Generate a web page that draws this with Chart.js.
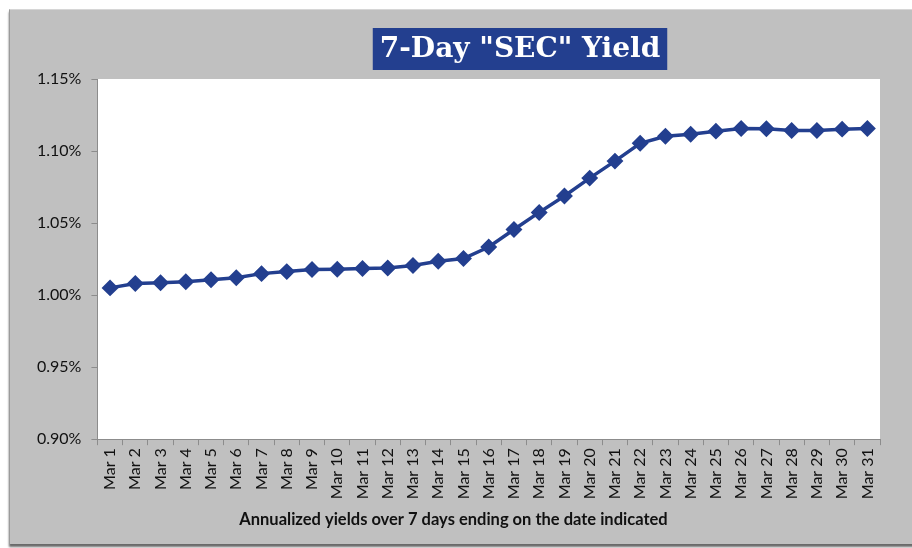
<!DOCTYPE html>
<html>
<head>
<meta charset="utf-8">
<script src="https://cdn.jsdelivr.net/npm/chart.js@4.4.0/dist/chart.umd.min.js"></script>
<style>
  html, body { margin: 0; padding: 0; background: #fff; }
  #frame {
    position: absolute; left: 9px; top: 9px; width: 910px; height: 534px;
    background: #c0c0c0;
    border-left: 1px solid #9a9a9a; border-top: 1px solid #d6d6d6;
    box-shadow: 0 3px 2px #6a6a6a;
  }
  #wrap { position: absolute; left: 0; top: 0; width: 912px; height: 548px; }
</style>
</head>
<body>
<div id="frame"></div>
<div id="wrap"><canvas id="yieldChart"></canvas></div>
<script>
const chartTitle = '7-Day "SEC" Yield';
const axisNote = 'Annualized yields over 7 days ending on the date indicated';

const days = ['Mar 1', 'Mar 2', 'Mar 3', 'Mar 4', 'Mar 5', 'Mar 6', 'Mar 7', 'Mar 8',
  'Mar 9', 'Mar 10', 'Mar 11', 'Mar 12', 'Mar 13', 'Mar 14', 'Mar 15', 'Mar 16',
  'Mar 17', 'Mar 18', 'Mar 19', 'Mar 20', 'Mar 21', 'Mar 22', 'Mar 23', 'Mar 24',
  'Mar 25', 'Mar 26', 'Mar 27', 'Mar 28', 'Mar 29', 'Mar 30', 'Mar 31'];

// 7-day yield, percent
const yields = [1.005, 1.008, 1.0086, 1.0093, 1.0107, 1.0121, 1.0149, 1.0163,
  1.0177, 1.0180, 1.0184, 1.0188, 1.0205, 1.0235, 1.0254, 1.0334,
  1.0455, 1.0574, 1.0688, 1.0812, 1.0930, 1.1054, 1.1103, 1.1117,
  1.1138, 1.1157, 1.1154, 1.1142, 1.1142, 1.1152, 1.1157];

const yMin = 0.90, yMax = 1.15, yStep = 0.05;

const chartDecor = {
  id: 'chartDecor',
  beforeDraw(chart) {
    const { ctx, chartArea: a } = chart;
    ctx.save();
    ctx.fillStyle = '#ffffff';
    ctx.fillRect(a.left, a.top, a.right - a.left, a.bottom - a.top);
    ctx.restore();
  },
  afterDraw(chart) {
    const ctx = chart.ctx;
    ctx.save();
    ctx.font = 'bold 28px "DejaVu Serif"';
    const w = ctx.measureText(chartTitle).width + 14;
    const cx = 520, cy = 49;
    ctx.fillStyle = '#233f8f';
    ctx.fillRect(cx - w / 2, 28, w, 42);
    ctx.fillStyle = '#ffffff';
    ctx.textAlign = 'center';
    ctx.textBaseline = 'middle';
    ctx.fillText(chartTitle, cx, cy + 1);
    ctx.restore();
  }
};

const ctx = document.getElementById('yieldChart').getContext('2d');
const yieldChart = new Chart(ctx, {
  type: 'line',
  data: {
    labels: days,
    datasets: [{
      label: '7-Day SEC Yield',
      data: yields,
      borderColor: '#233f8f',
      backgroundColor: '#233f8f',
      borderWidth: 3.5,
      pointStyle: 'rectRot',
      pointRadius: 6,
      pointHoverRadius: 6,
      tension: 0
    }]
  },
  options: {
    responsive: true,
    maintainAspectRatio: false,
    animation: false,
    layout: { padding: { top: 79, right: 32, left: 27, bottom: 18 } },
    plugins: {
      legend: { display: false },
      tooltip: { enabled: false },
      subtitle: {
        display: true,
        position: 'bottom',
        text: axisNote,
        color: '#111',
        font: { family: 'Lato', size: 16.5, weight: 'bold' },
        padding: { top: 8, bottom: 0 }
      }
    },
    scales: {
      x: {
        offset: true,
        border: { color: '#8c8c8c', width: 1 },
        grid: { display: true, offset: true, drawOnChartArea: false, tickLength: 6, color: '#8c8c8c' },
        ticks: {
          minRotation: 90, maxRotation: 90, autoSkip: false,
          color: '#111', padding: 3,
          font: { family: 'Lato', size: 16 }
        }
      },
      y: {
        min: yMin, max: yMax,
        border: { color: '#8c8c8c', width: 1 },
        grid: { display: true, drawOnChartArea: false, tickLength: 6, color: '#8c8c8c' },
        ticks: {
          stepSize: yStep, color: '#111', padding: 10,
          font: { family: 'Lato', size: 16 },
          callback: v => v.toFixed(2) + '%'
        }
      }
    }
  },
  plugins: [chartDecor]
});
</script>
</body>
</html>
